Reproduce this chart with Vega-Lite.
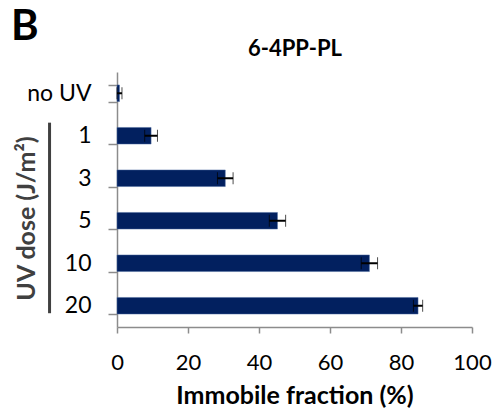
{
  "$schema": "https://vega.github.io/schema/vega-lite/v6.json",
  "autosize": "none",
  "width": 355,
  "height": 255,
  "padding": {"left": 117, "top": 72, "right": 27, "bottom": 93},
  "background": "white",
  "config": {
    "font": "Lato",
    "view": {"stroke": null}
  },
  "title": {
    "text": "B",
    "anchor": "start",
    "frame": "bounds",
    "fontSize": 42,
    "fontWeight": "bold",
    "font": "Lato",
    "color": "black",
    "offset": 0,
    "dy": 12,
    "dx": -3
  },
  "data": {
    "values": [
      {"dose": "no UV", "fraction": 0.7, "err": 0.7},
      {"dose": "1", "fraction": 9.6, "err": 1.8},
      {"dose": "3", "fraction": 30.5, "err": 2.2},
      {"dose": "5", "fraction": 45.2, "err": 2.3},
      {"dose": "10", "fraction": 71.1, "err": 2.3},
      {"dose": "20", "fraction": 84.8, "err": 1.3}
    ]
  },
  "transform": [
    {"calculate": "datum.fraction - datum.err", "as": "lo"},
    {"calculate": "datum.fraction + datum.err", "as": "hi"}
  ],
  "encoding": {
    "y": {
      "field": "dose",
      "type": "ordinal",
      "scale": {"domain": ["no UV", "1", "3", "5", "10", "20"], "paddingInner": 0.61, "paddingOuter": 0.305},
      "axis": {
        "title": "UV dose (J/m²)",
        "titleFontSize": 25,
        "titleFontWeight": "bold",
        "titleColor": "#404040",
        "titleAngle": -90,
        "titleAlign": "center",
        "titleBaseline": "middle",
        "titleX": -91,
        "titleY": 146,
        "labelFontSize": 23,
        "labelColor": "black",
        "labelPadding": 17,
        "tickBand": "extent",
        "tickSize": 9,
        "tickColor": "#8c8c8c",
        "tickWidth": 1.5,
        "domainColor": "#8c8c8c",
        "domainWidth": 1.5
      }
    }
  },
  "layer": [
    {
      "mark": {"type": "bar", "color": "#02205f", "stroke": "#4d6a9e", "strokeWidth": 0.5},
      "encoding": {
        "x": {
          "field": "fraction",
          "type": "quantitative",
          "scale": {"domain": [0, 100], "nice": false, "zero": true},
          "axis": {
            "title": "Immobile fraction (%)",
            "titleFontSize": 25,
            "titleFontWeight": "bold",
            "titleColor": "black",
            "titlePadding": 10,
            "values": [0, 20, 40, 60, 80, 100],
            "labelFontSize": 22,
            "labelColor": "black",
            "labelPadding": 19,
            "labelFlush": false,
            "tickSize": 6,
            "tickColor": "#8c8c8c",
            "tickWidth": 1.5,
            "domainColor": "#8c8c8c",
            "domainWidth": 1.5,
            "grid": false
          }
        }
      }
    },
    {
      "mark": {"type": "errorbar", "ticks": {"size": 12, "color": "black", "strokeWidth": 2}, "rule": {"color": "black", "strokeWidth": 2}},
      "encoding": {
        "x": {"field": "lo", "type": "quantitative", "axis": null},
        "x2": {"field": "hi"}
      }
    },
    {
      "data": {"values": [{"dose": "1", "last": "20"}]},
      "mark": {"type": "rule", "color": "#404040", "strokeWidth": 3},
      "encoding": {
        "x": {"datum": -19, "type": "quantitative", "axis": {"orient": "top", "title": "6-4PP-PL", "titleFontSize": 22, "titleFontWeight": "bold", "titleColor": "black", "titlePadding": 12, "labels": false, "ticks": false, "domain": false, "grid": false}},
        "y": {"field": "dose", "type": "ordinal", "bandPosition": -0.29},
        "y2": {"field": "last", "bandPosition": 0.95}
      }
    }
  ],
  "resolve": {"axis": {"x": "independent"}}
}
